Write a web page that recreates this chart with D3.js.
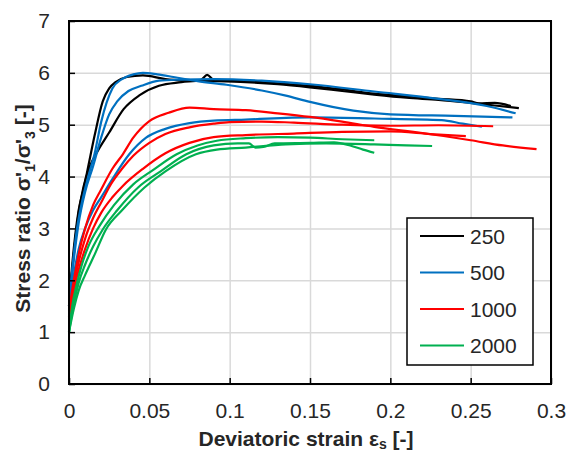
<!DOCTYPE html>
<html lang="en">
<head>
<meta charset="utf-8">
<script src="https://cdn.jsdelivr.net/npm/d3@7"></script>
<style>
  body { margin: 0; background: #fff; }
  svg text { font-family: "Liberation Sans", Arial, sans-serif; fill: #262626; }
</style>
</head>
<body>
<div id="chart"></div>
<script>
// legend categories (confining pressure)
const pressures = ["250", "500", "1000", "2000"];
const xTicks = [0, 0.05, 0.1, 0.15, 0.2, 0.25, 0.3];
const yTicks = [0, 1, 2, 3, 4, 5, 6, 7];

// deviatoric strain / stress ratio pairs
const p250a = [[0,1.5],[0.002,2.3],[0.004,2.9],[0.006,3.35],[0.009,3.75],[0.012,4.2],[0.016,4.8],[0.021,5.45],[0.025,5.7],[0.029,5.82],[0.036,5.92],[0.046,5.95],[0.06,5.88],[0.075,5.85],[0.09,5.84],[0.11,5.82],[0.13,5.78],[0.15,5.72],[0.17,5.65],[0.19,5.58],[0.21,5.52],[0.23,5.48],[0.25,5.42],[0.265,5.37],[0.28,5.32]];
const p250b = [[0,1.5],[0.002,2.2],[0.004,2.8],[0.006,3.3],[0.009,3.8],[0.013,4.2],[0.018,4.5],[0.025,4.85],[0.034,5.3],[0.044,5.57],[0.056,5.75],[0.07,5.82],[0.082,5.86],[0.086,5.96],[0.09,5.87],[0.11,5.84],[0.13,5.8],[0.15,5.75],[0.17,5.68],[0.19,5.6],[0.21,5.55],[0.23,5.5],[0.25,5.45],[0.255,5.41],[0.265,5.42],[0.275,5.36]];
const p500a = [[0,1.5],[0.002,2.2],[0.005,3.0],[0.008,3.5],[0.012,4.0],[0.016,4.45],[0.02,5.05],[0.027,5.7],[0.033,5.88],[0.04,5.97],[0.046,6.0],[0.055,5.97],[0.065,5.92],[0.08,5.84],[0.098,5.77],[0.12,5.66],[0.135,5.56],[0.15,5.44],[0.177,5.27],[0.2,5.2],[0.24,5.17],[0.276,5.14]];
const p500b = [[0,1.5],[0.003,2.4],[0.006,3.1],[0.01,3.7],[0.015,4.2],[0.02,4.75],[0.025,5.2],[0.03,5.45],[0.037,5.65],[0.045,5.75],[0.056,5.85],[0.07,5.87],[0.09,5.88],[0.12,5.85],[0.15,5.78],[0.19,5.64],[0.23,5.5],[0.26,5.36],[0.278,5.22]];
const p500c = [[0,1.4],[0.003,2.1],[0.006,2.6],[0.01,3.0],[0.015,3.35],[0.02,3.6],[0.027,3.95],[0.0375,4.43],[0.048,4.75],[0.06,4.92],[0.075,5.03],[0.09,5.08],[0.11,5.1],[0.15,5.14],[0.19,5.12],[0.232,5.09],[0.245,5.02],[0.257,4.96]];
const p1000a = [[0,1.4],[0.003,2.0],[0.006,2.5],[0.01,3.0],[0.015,3.45],[0.02,3.75],[0.027,4.15],[0.0335,4.43],[0.04,4.75],[0.05,5.07],[0.062,5.23],[0.075,5.33],[0.09,5.3],[0.11,5.28],[0.13,5.22],[0.15,5.15],[0.17,5.06],[0.19,4.96],[0.22,4.84],[0.25,4.7],[0.27,4.6],[0.291,4.53]];
const p1000b = [[0,1.3],[0.003,1.9],[0.006,2.35],[0.01,2.8],[0.015,3.2],[0.02,3.5],[0.026,3.85],[0.033,4.15],[0.04,4.4],[0.05,4.65],[0.06,4.82],[0.075,4.95],[0.09,5.02],[0.1,5.05],[0.12,5.06],[0.14,5.04],[0.17,5.0],[0.2,4.98],[0.23,4.99],[0.264,4.97]];
const p1000c = [[0,1.2],[0.003,1.8],[0.006,2.2],[0.01,2.6],[0.015,3.0],[0.02,3.3],[0.027,3.6],[0.0335,3.82],[0.046,4.15],[0.06,4.45],[0.075,4.65],[0.09,4.76],[0.11,4.8],[0.14,4.83],[0.17,4.86],[0.2,4.87],[0.225,4.82],[0.247,4.78]];
const p2000a = [[0,1.0],[0.002,1.5],[0.005,1.95],[0.008,2.3],[0.012,2.65],[0.019,3.05],[0.028,3.45],[0.04,3.85],[0.052,4.12],[0.067,4.43],[0.08,4.6],[0.092,4.69],[0.11,4.74],[0.13,4.76],[0.15,4.75],[0.17,4.72],[0.19,4.7]];
const p2000b = [[0,1.0],[0.003,1.55],[0.006,1.95],[0.01,2.3],[0.015,2.65],[0.021,2.98],[0.03,3.35],[0.043,3.79],[0.057,4.1],[0.073,4.43],[0.09,4.6],[0.105,4.64],[0.112,4.64],[0.116,4.56],[0.121,4.57],[0.128,4.64],[0.15,4.65],[0.165,4.66],[0.175,4.6],[0.183,4.52],[0.19,4.46]];
const p2000c = [[0,1.0],[0.003,1.45],[0.006,1.8],[0.01,2.1],[0.016,2.5],[0.023,2.98],[0.033,3.35],[0.047,3.79],[0.06,4.1],[0.079,4.43],[0.092,4.52],[0.11,4.56],[0.135,4.62],[0.16,4.64],[0.19,4.62],[0.21,4.6],[0.226,4.59]];

const groups = [
  { name: pressures[0], color: "#000000", curves: [p250a, p250b] },
  { name: pressures[1], color: "#0070C0", curves: [p500a, p500b, p500c] },
  { name: pressures[2], color: "#FF0000", curves: [p1000a, p1000b, p1000c] },
  { name: pressures[3], color: "#00B050", curves: [p2000a, p2000b, p2000c] }
];

const W = 568, H = 454;
const mL = 69, mR = 551, mT = 21, mB = 384;

const svg = d3.select("#chart").append("svg").attr("width", W).attr("height", H);

const x = d3.scaleLinear().domain([0, 0.3]).range([mL, mR]);
const y = d3.scaleLinear().domain([0, 7]).range([mB, mT]);

// grid
svg.append("g").attr("transform", `translate(0,${mB})`)
  .call(d3.axisBottom(x).tickValues(xTicks).tickSize(-(mB - mT)).tickFormat(""))
  .call(g => g.select(".domain").remove())
  .selectAll("line").attr("stroke", "#d9d9d9").attr("stroke-width", 1.5);
svg.append("g").attr("transform", `translate(${mL},0)`)
  .call(d3.axisLeft(y).tickValues(yTicks).tickSize(-(mR - mL)).tickFormat(""))
  .call(g => g.select(".domain").remove())
  .selectAll("line").attr("stroke", "#d9d9d9").attr("stroke-width", 1.5);

// curves
const line = d3.line().x(d => x(d[0])).y(d => y(d[1])).curve(d3.curveMonotoneX);
groups.forEach(gr => {
  gr.curves.forEach(c => {
    svg.append("path").datum(c).attr("d", line)
      .attr("fill", "none").attr("stroke", gr.color).attr("stroke-width", 2.2);
  });
});

// frame
svg.append("rect").attr("x", mL).attr("y", mT)
  .attr("width", mR - mL).attr("height", mB - mT)
  .attr("fill", "none").attr("stroke", "#000").attr("stroke-width", 2);

// axes (ticks inside)
const xAxis = svg.append("g").attr("transform", `translate(0,${mB})`)
  .call(d3.axisBottom(x).tickValues(xTicks).tickSizeInner(-6).tickSizeOuter(0).tickPadding(19).tickFormat(d => d));
xAxis.select(".domain").remove();
xAxis.selectAll("line").attr("stroke", "#000").attr("stroke-width", 1.5);
xAxis.selectAll("text").style("font-size", "21px").attr("fill", "#262626");

const yAxis = svg.append("g").attr("transform", `translate(${mL},0)`)
  .call(d3.axisLeft(y).tickValues(yTicks).tickSizeInner(-6).tickSizeOuter(0).tickPadding(19).tickFormat(d3.format("d")));
yAxis.select(".domain").remove();
yAxis.selectAll("line").attr("stroke", "#000").attr("stroke-width", 1.5);
yAxis.selectAll("text").style("font-size", "21px").attr("fill", "#262626");

// axis titles
const xt = svg.append("text").attr("x", (mL + mR) / 2 - 4).attr("y", 446)
  .attr("text-anchor", "middle").style("font-size", "21px").style("font-weight", "bold");
xt.append("tspan").text("Deviatoric strain ε");
xt.append("tspan").attr("dy", 3).style("font-size", "14px").text("s");
xt.append("tspan").attr("dy", -3).text(" [-]");

const yt = svg.append("text").attr("transform", `translate(30,${(mT + mB) / 2 + 6}) rotate(-90)`)
  .attr("text-anchor", "middle").style("font-size", "21px").style("font-weight", "bold");
yt.append("tspan").text("Stress ratio σ'");
yt.append("tspan").attr("dy", 5).style("font-size", "14px").text("1");
yt.append("tspan").attr("dy", -5).text("/σ'");
yt.append("tspan").attr("dy", 5).style("font-size", "14px").text("3");
yt.append("tspan").attr("dy", -5).text(" [-]");

// legend
const lg = svg.append("g");
lg.append("rect").attr("x", 407).attr("y", 218).attr("width", 126).attr("height", 147)
  .attr("fill", "#fff").attr("stroke", "#000").attr("stroke-width", 1.5);
groups.forEach((gr, i) => {
  const ly = 236 + i * 36.5;
  lg.append("line").attr("x1", 420).attr("x2", 464).attr("y1", ly).attr("y2", ly)
    .attr("stroke", gr.color).attr("stroke-width", 2);
  lg.append("text").attr("x", 470).attr("y", ly).attr("dy", "0.36em")
    .style("font-size", "21px").text(gr.name);
});
</script>
</body>
</html>
